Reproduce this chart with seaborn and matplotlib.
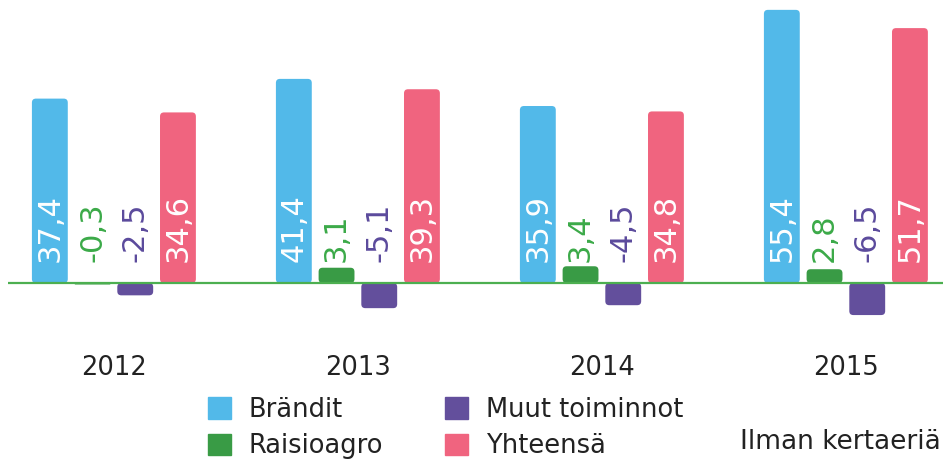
import matplotlib
matplotlib.use("Agg")
import matplotlib.pyplot as plt
import matplotlib.patches as mpatches
import pandas as pd
import seaborn as sns

# data
years = ["2012", "2013", "2014", "2015"]
series = ["Brändit", "Raisioagro", "Muut toiminnot", "Yhteensä"]
brandit = [37.4, 41.4, 35.9, 55.4]
raisioagro = [-0.3, 3.1, 3.4, 2.8]
muut = [-2.5, -5.1, -4.5, -6.5]
yhteensa = [34.6, 39.3, 34.8, 51.7]
note = "Ilman kertaeriä"

C_BLUE = "#52B9E9"
C_GREEN = "#399B45"
C_PURPLE = "#634F9C"
C_PINK = "#F0647F"
bar_colors = [C_BLUE, C_GREEN, C_PURPLE, C_PINK]
label_colors = ["white", "#3BAA48", "#5B4A9C", "white"]

df = pd.DataFrame({
    "year": years * 4,
    "series": [s for s in series for _ in years],
    "value": brandit + raisioagro + muut + yhteensa,
})

sns.set_theme(style="white")
plt.rcParams["font.family"] = ["DejaVu Sans"]

W, H = 943, 467
fig = plt.figure(figsize=(W / 100, H / 100), dpi=100, facecolor="white")
ax_l, ax_b, ax_r, ax_t = 8, 137, 943, 467
ax = fig.add_axes([ax_l / W, ax_b / H, (ax_r - ax_l) / W, (ax_t - ax_b) / H])

sns.barplot(data=df, x="year", y="value", hue="series", order=years,
            hue_order=series, palette=bar_colors, width=0.70, gap=0.16,
            saturation=1, legend=False, ax=ax)

xlim = (-0.434, 3.398)
ylim = (-9.53, 57.4)
ax.set_xlim(*xlim)
ax.set_ylim(*ylim)

# rounded bars
px_x = (xlim[1] - xlim[0]) / (ax_r - ax_l)
px_y = (ylim[1] - ylim[0]) / (ax_t - ax_b)
asp = px_y / px_x
for cont, col, lcol, vals in zip(ax.containers, bar_colors, label_colors,
                                 [brandit, raisioagro, muut, yhteensa]):
    for bar, v in zip(cont, vals):
        x, w, h = bar.get_x(), bar.get_width(), bar.get_height()
        bar.set_visible(False)
        r = min(4 * px_x, w / 2, abs(h) / asp / 2)
        fb = mpatches.FancyBboxPatch((x, min(0, h)), w, abs(h),
                                     boxstyle=f"round,pad=0,rounding_size={r}",
                                     mutation_aspect=asp, fc=col, ec="none", zorder=2)
        ax.add_patch(fb)
        ax.text(x + w / 2, 4.2, f"{v:.1f}".replace(".", ","), rotation=90,
                ha="center", va="bottom", color=lcol, fontsize=22, zorder=4)

ax.axhline(0, color="#4CAF50", lw=1.6, zorder=3)

sns.despine(ax=ax, left=True, bottom=True)
ax.set_yticks([])
ax.set_xlabel("")
ax.set_ylabel("")
ax.tick_params(axis="x", length=0, pad=18, labelsize=18.5, labelcolor="#222222")

handles = [mpatches.Patch(color=c, label=s) for c, s in zip(bar_colors, series)]
fig.legend(handles=handles, ncol=2, loc="upper left",
           bbox_to_anchor=(195 / W, 1 - 384 / H), frameon=False,
           fontsize=18.5, handlelength=0.9, handleheight=0.9,
           handletextpad=0.7, columnspacing=2.4, labelspacing=0.4,
           borderpad=0, labelcolor="#222222")

fig.text(740 / W, 1 - 442 / H, note, ha="left", va="center",
         fontsize=19, color="#222222")

fig.savefig("out.png", dpi=100, facecolor="white")
